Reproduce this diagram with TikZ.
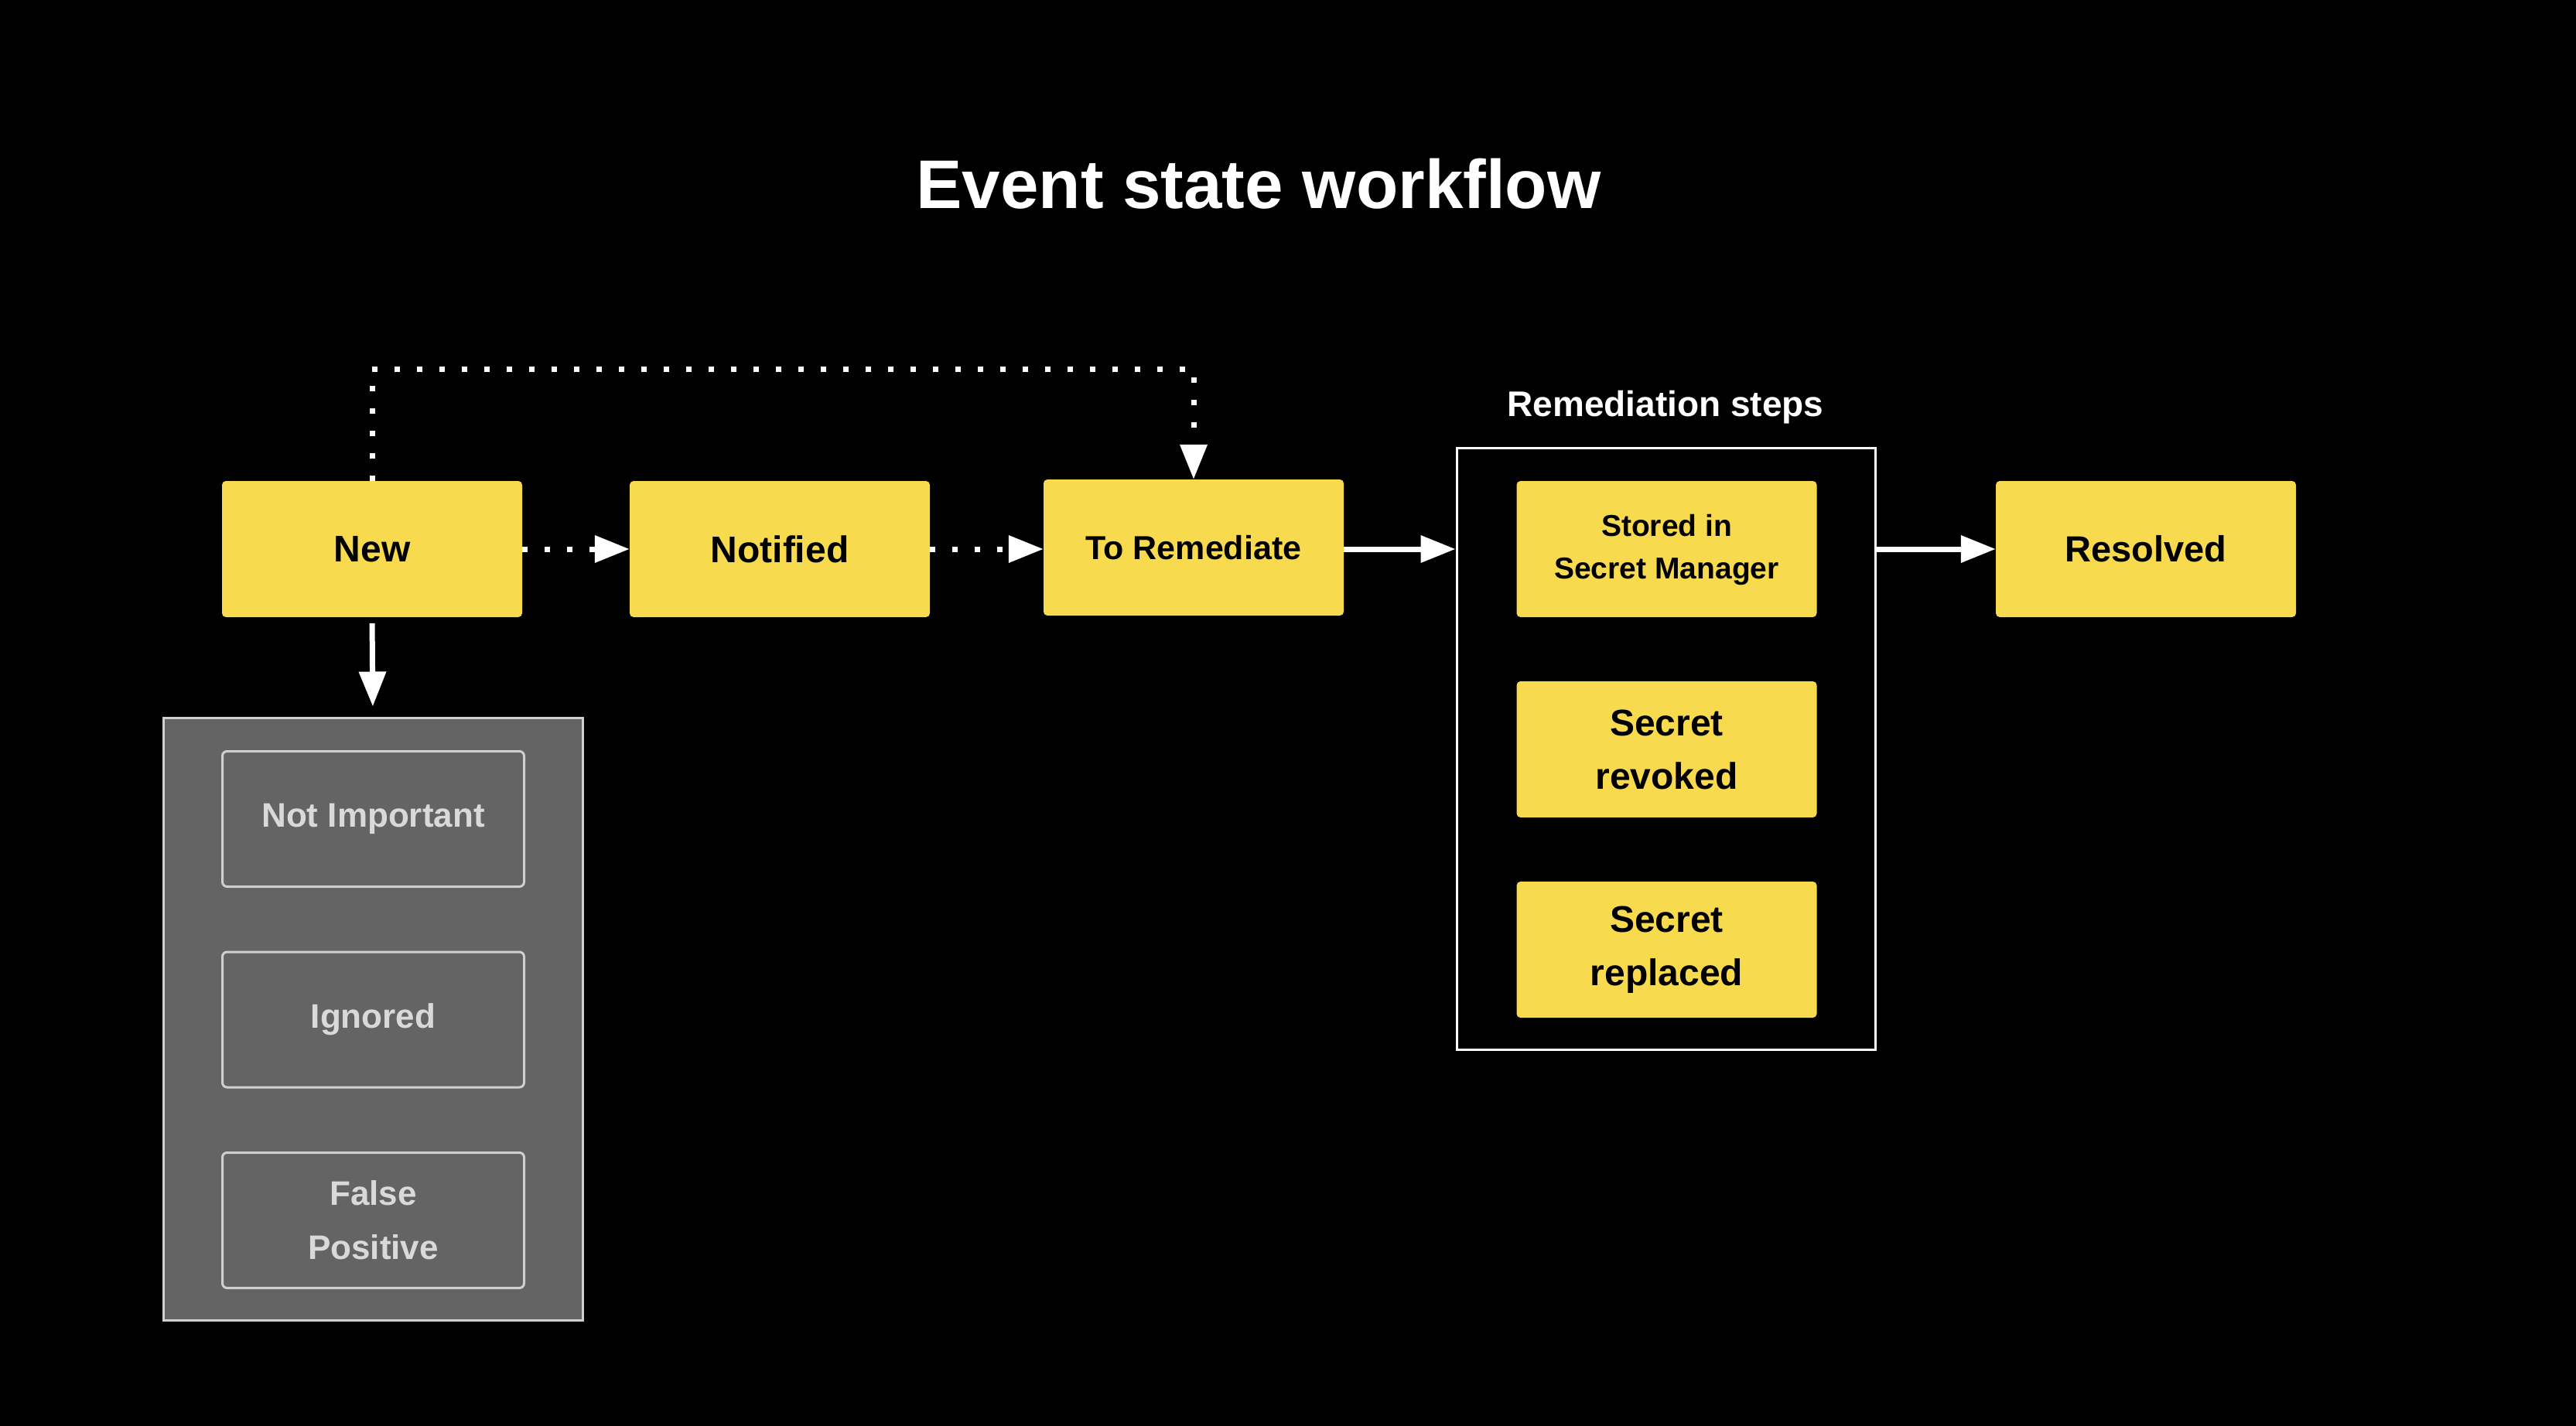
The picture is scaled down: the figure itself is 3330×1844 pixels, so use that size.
\documentclass[tikz,border=0pt]{standalone}
\usepackage{fontspec}
\setmainfont{Liberation Sans}
\usetikzlibrary{arrows.meta}
\definecolor{yellowbox}{HTML}{F8DA4E}
\definecolor{grayfill}{HTML}{646464}
\definecolor{grayline}{HTML}{D0D0D0}
\definecolor{graytext}{HTML}{D9D9D9}
\begin{document}
\begin{tikzpicture}[x=1pt,y=-1pt,
  ystate/.style={fill=yellowbox, rounded corners=5pt, minimum width=388pt, minimum height=176pt,
    inner sep=0pt, align=center, text=black},
  gstate/.style={fill=grayfill, draw=grayline, line width=3pt, rounded corners=6pt,
    minimum width=390pt, minimum height=175pt, inner sep=0pt, align=center, text=graytext,
    font=\bfseries\fontsize{44}{70}\selectfont},
  bigtxt/.style={font=\bfseries\fontsize{48}{69}\selectfont},
  tip/.style={-{Triangle[length=45pt,width=34pt]}},
  conn/.style={draw=white, line width=7pt, tip},
  dotconn/.style={conn, dash pattern=on 7pt off 22pt},
]
\fill[black] (0,0) rectangle (3330,1844);
\useasboundingbox (0,0) rectangle (3330,1844);

\node[text=white, font=\bfseries\fontsize{89}{100}\selectfont] (title) at (1627,238) {Event state workflow};

% main states
\node[ystate, bigtxt] (new) at (481,710) {New};
\node[ystate, bigtxt] (notified) at (1008,710) {Notified};
\node[ystate, font=\bfseries\fontsize{43}{60}\selectfont] (torem) at (1543,708) {To Remediate};
\node[ystate, bigtxt, font=\bfseries\fontsize{47}{60}\selectfont] (resolved) at (2774,710) {Resolved};

% remediation group
\node[draw=white, line width=3pt, minimum width=541pt, minimum height=778pt, inner sep=0pt] (remgrp) at (2153.5,968) {};
\node[text=white, font=\bfseries\fontsize{46}{60}\selectfont] (remlbl) at (2153,527) {Remediation steps};
\node[ystate, font=\bfseries\fontsize{39}{55}\selectfont] (stored) at (2154.5,710) {\raisebox{-7pt}{\begin{tabular}{@{}c@{}}Stored in\\Secret Manager\end{tabular}}};
\node[ystate, bigtxt] (revoked) at (2154.5,969) {Secret\\revoked};
\node[ystate, bigtxt] (replaced) at (2154.5,1228) {Secret\\replaced};

% closed group
\node[fill=grayfill, draw=grayline, line width=3pt, minimum width=542pt, minimum height=779pt, inner sep=0pt] (closedgrp) at (482,1317.5) {};
\node[gstate] (notimp) at (482.5,1059) {Not Important};
\node[gstate] (ignored) at (482.5,1318.5) {Ignored};
\node[gstate] (falsepos) at (482.5,1578) {False\\Positive};

% connectors
\draw[dotconn] (new.east) -- (notified.west);
\draw[dotconn] (notified.east) -- (torem.west |- notified.east);
\draw[conn] (torem.east |- new.east) -- (remgrp.west |- new.east);
\draw[conn] (remgrp.east |- resolved.west) -- (resolved.west);
\draw[conn, shorten <=8pt, shorten >=13pt] (new.south) -- (closedgrp.north);
\coordinate (c1) at (481,477);
\coordinate (c2) at (1543,477);
\draw[dotconn] (new.north) -- (c1) -- (c2) -- (torem.north -| c2);
\end{tikzpicture}
\end{document}
